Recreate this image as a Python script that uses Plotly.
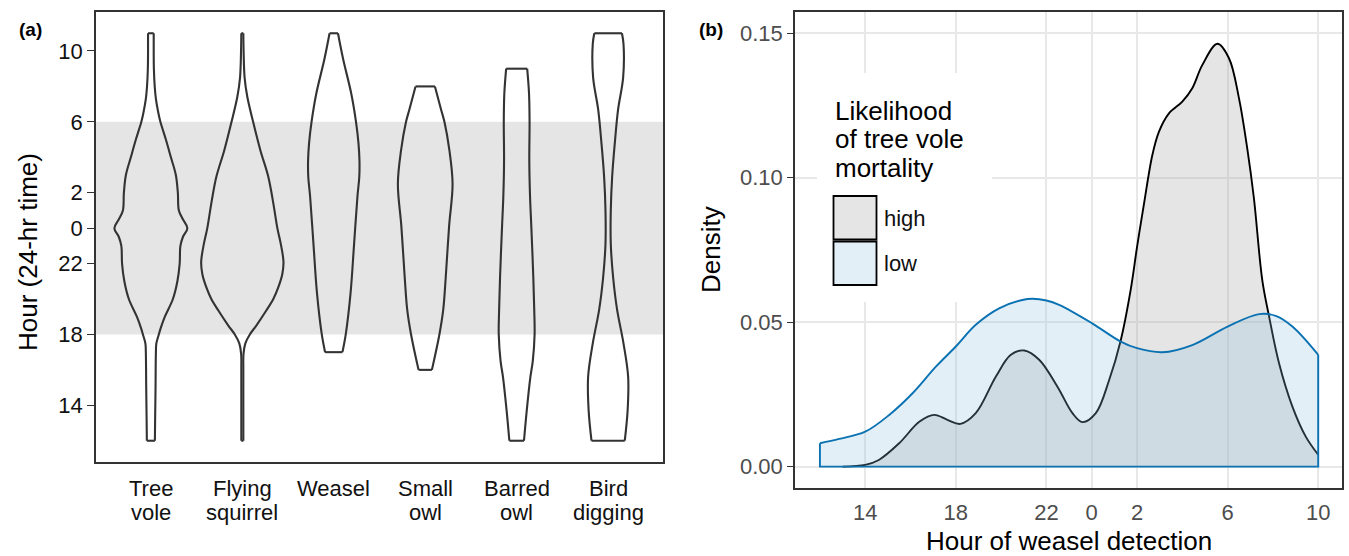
import plotly.graph_objects as go

# ---------------- data: panel (a) violins ----------------
CATEGORIES = ["Tree vole", "Flying squirrel", "Weasel", "Small owl", "Barred owl", "Bird digging"]
# hour on a continuous scale (24 = midnight, 30 = 6 am), half-width of violin in category units
TREE_VOLE_H = [12, 13, 15, 17, 17.5, 18, 18.3, 19, 20, 21, 22, 23, 23.5, 24, 24.5, 25, 26, 27, 28, 29, 30, 30.5, 31.3, 32, 33, 34, 35]
TREE_VOLE_W = [0.044, 0.046, 0.051, 0.055, 0.060, 0.087, 0.104, 0.153, 0.241, 0.290, 0.315, 0.323, 0.350, 0.399, 0.350, 0.306, 0.295, 0.273, 0.219, 0.164, 0.104, 0.082, 0.055, 0.042, 0.033, 0.031, 0.031]
SQUIRREL_H = [12, 14, 16, 16.9, 17.5, 18, 18.5, 19.35, 20, 20.67, 21.4, 22.1, 23.1, 24, 25.4, 26.9, 28.4, 30, 31.4, 32.5, 34, 35]
SQUIRREL_W = [0.011, 0.011, 0.011, 0.013, 0.033, 0.082, 0.153, 0.262, 0.339, 0.394, 0.437, 0.450, 0.421, 0.383, 0.339, 0.284, 0.197, 0.118, 0.055, 0.025, 0.014, 0.011]
WEASEL_H = [17, 18, 20.3, 23.1, 25.8, 26.9, 27.8, 28.8, 30, 31.6, 33.5, 35]
WEASEL_W = [0.095, 0.131, 0.183, 0.222, 0.259, 0.279, 0.281, 0.270, 0.243, 0.191, 0.104, 0.046]
SMALL_OWL_H = [16, 18, 19.4, 21.2, 24.1, 26.5, 28.4, 30, 30.7, 32]
SMALL_OWL_W = [0.073, 0.155, 0.197, 0.224, 0.261, 0.299, 0.264, 0.210, 0.173, 0.106]
BARRED_OWL_H = [12, 13.7, 15.6, 16.5, 18, 19.4, 21.2, 24.1, 25.8, 27.8, 30, 31.6, 33]
BARRED_OWL_W = [0.080, 0.110, 0.150, 0.176, 0.196, 0.192, 0.182, 0.160, 0.146, 0.138, 0.141, 0.135, 0.115]
BIRD_DIG_H = [12, 13.7, 15.6, 17.5, 19.4, 21.2, 23.1, 25, 26.9, 28.8, 30.7, 32.5, 34.4, 35]
BIRD_DIG_W = [0.182, 0.213, 0.219, 0.168, 0.098, 0.055, 0.029, 0.029, 0.044, 0.073, 0.109, 0.164, 0.168, 0.151]
VIOLINS = [(TREE_VOLE_H, TREE_VOLE_W), (SQUIRREL_H, SQUIRREL_W), (WEASEL_H, WEASEL_W),
           (SMALL_OWL_H, SMALL_OWL_W), (BARRED_OWL_H, BARRED_OWL_W), (BIRD_DIG_H, BIRD_DIG_W)]
NIGHT_START, NIGHT_END = 18, 30
A_TICK_VALS = [14, 18, 22, 24, 26, 30, 34]
A_TICK_TEXT = ["14", "18", "22", "0", "2", "6", "10"]

# ---------------- data: panel (b) densities ----------------
HIGH_H = [13.0, 14.0, 14.6, 15.5, 16.4, 17.05, 17.63, 18.2, 18.88, 19.77, 20.43, 21.02, 21.68, 22.5, 23.15, 23.59, 24.18, 24.77, 25.28, 25.72, 26.0, 26.3, 26.68, 26.97, 27.41, 28.0, 28.44, 28.88, 29.55, 30.06, 30.5, 30.87, 31.16, 31.53, 31.83, 32.27, 32.86, 33.45, 34.0]
HIGH_D = [0.0, 0.0006, 0.0023, 0.0081, 0.0156, 0.0179, 0.0162, 0.0148, 0.0185, 0.0312, 0.0387, 0.0402, 0.0370, 0.0275, 0.0185, 0.0154, 0.0185, 0.0300, 0.0437, 0.0612, 0.0760, 0.0906, 0.1080, 0.1160, 0.1223, 0.1264, 0.1310, 0.1390, 0.1464, 0.1414, 0.1276, 0.1100, 0.0930, 0.0646, 0.0520, 0.0358, 0.0208, 0.0104, 0.0041]
LOW_H = [12.0, 12.85, 14.0, 15.06, 16.09, 17.12, 18.0, 18.88, 19.91, 20.94, 21.38, 22.0, 22.56, 24.0, 25.28, 26.0, 27.12, 28.44, 30.0, 31.39, 32.12, 32.86, 34.0]
LOW_D = [0.0081, 0.0096, 0.0121, 0.0179, 0.0254, 0.0346, 0.0416, 0.0491, 0.0548, 0.0577, 0.0581, 0.0575, 0.0560, 0.0497, 0.0433, 0.0410, 0.0396, 0.0421, 0.0485, 0.0528, 0.0522, 0.0485, 0.0387]
B_X_TICK_VALS = [14, 18, 22, 24, 26, 30, 34]
B_X_TICK_TEXT = ["14", "18", "22", "0", "2", "6", "10"]
B_Y_TICK_VALS = [0, 0.05, 0.10, 0.15]
B_Y_TICK_TEXT = ["0.00", "0.05", "0.10", "0.15"]
GROUPS = ["high", "low"]
LEGEND_TITLE = ["Likelihood", "of tree vole", "mortality"]

# ---------------- styling ----------------
W, H = 1349, 556
FONT = "Liberation Sans, Arial, sans-serif"
OUTLINE = "#333333"
HIGH_FILL = "rgba(153,153,153,0.26)"
LOW_FILL = "rgba(143,191,223,0.25)"
LOW_LINE = "#0a72b2"


def fx(p):
    return p / W


def fy(p):
    return 1 - p / H


fig = go.Figure()

# violins
for i, (hrs, wid) in enumerate(VIOLINS):
    c = i + 1
    common = dict(mode="lines", hoverinfo="skip", showlegend=False, xaxis="x", yaxis="y")
    fig.add_trace(go.Scatter(x=[c + w for w in wid], y=hrs,
                             line=dict(color=OUTLINE, width=2.1, shape="spline", smoothing=1.0), **common))
    fig.add_trace(go.Scatter(x=[c - w for w in wid], y=hrs,
                             line=dict(color=OUTLINE, width=2.1, shape="spline", smoothing=1.0), **common))
    fig.add_trace(go.Scatter(x=[c - wid[0], c + wid[0], None, c - wid[-1], c + wid[-1]],
                             y=[hrs[0], hrs[0], None, hrs[-1], hrs[-1]],
                             line=dict(color=OUTLINE, width=2.1), **common))

# densities
fig.add_trace(go.Scatter(x=HIGH_H, y=HIGH_D, mode="lines", fill="tozeroy", fillcolor=HIGH_FILL,
                         line=dict(color="#000000", width=1.9, shape="spline", smoothing=1.0),
                         name=GROUPS[0], showlegend=False, xaxis="x2", yaxis="y2"))
fig.add_trace(go.Scatter(x=LOW_H, y=LOW_D, mode="lines", fill="tozeroy", fillcolor=LOW_FILL,
                         line=dict(color=LOW_LINE, width=1.9, shape="spline", smoothing=1.0),
                         name=GROUPS[1], showlegend=False, xaxis="x2", yaxis="y2"))
fig.add_trace(go.Scatter(x=[LOW_H[0], LOW_H[0], LOW_H[-1], LOW_H[-1]], y=[LOW_D[0], 0, 0, LOW_D[-1]],
                         mode="lines", line=dict(color=LOW_LINE, width=1.9), hoverinfo="skip",
                         showlegend=False, xaxis="x2", yaxis="y2"))

shapes = [
    dict(type="rect", xref="paper", yref="y", x0=fx(96), x1=fx(663), y0=NIGHT_START, y1=NIGHT_END,
         fillcolor="#e5e5e5", line=dict(width=0), layer="below"),
    # legend background (covers grid lines)
    dict(type="rect", xref="paper", yref="paper", x0=fx(817), x1=fx(992), y0=fy(302), y1=fy(73),
         fillcolor="white", line=dict(width=0), layer="above"),
]

key_fills = [HIGH_FILL, LOW_FILL]
key_tops = [196, 241.5]
for kf, kt in zip(key_fills, key_tops):
    shapes.append(dict(type="rect", xref="paper", yref="paper", x0=fx(833.5), x1=fx(876.5),
                       y0=fy(kt + 43.5), y1=fy(kt), fillcolor=kf, line=dict(color="#000000", width=1.8),
                       layer="above"))

annotations = []
# category labels (a)
for i, cat in enumerate(CATEGORIES):
    parts = cat.split(" ", 1)
    for j, part in enumerate(parts):
        annotations.append(dict(x=i + 1, xref="x", y=fy(488.5 + 23.5 * j), yref="paper", text=part,
                                showarrow=False, xanchor="center", yanchor="middle",
                                font=dict(family=FONT, size=22, color="#111111")))
# legend text
for j, line in enumerate(LEGEND_TITLE):
    annotations.append(dict(x=fx(833), xref="paper", y=fy(111 + 28.3 * j), yref="paper", text=line,
                            showarrow=False, xanchor="left", yanchor="middle",
                            font=dict(family=FONT, size=26, color="#000000")))
for g, kt in zip(GROUPS, key_tops):
    annotations.append(dict(x=fx(882), xref="paper", y=fy(kt + 22), yref="paper", text=g,
                            showarrow=False, xanchor="left", yanchor="middle",
                            font=dict(family=FONT, size=22, color="#111111")))
# titles
annotations += [
    dict(x=fx(28), y=fy(252), xref="paper", yref="paper", text="Hour (24-hr time)", textangle=-90,
         showarrow=False, xanchor="center", yanchor="middle", font=dict(family=FONT, size=26, color="#000000")),
    dict(x=fx(711), y=fy(250), xref="paper", yref="paper", text="Density", textangle=-90,
         showarrow=False, xanchor="center", yanchor="middle", font=dict(family=FONT, size=26, color="#000000")),
    dict(x=fx(1069), y=fy(541), xref="paper", yref="paper", text="Hour of weasel detection",
         showarrow=False, xanchor="center", yanchor="middle", font=dict(family=FONT, size=26, color="#000000")),
    dict(x=fx(17), y=fy(29), xref="paper", yref="paper", text="<b>(a)</b>",
         showarrow=False, xanchor="left", yanchor="middle", font=dict(family=FONT, size=19, color="#000000")),
    dict(x=fx(697), y=fy(29), xref="paper", yref="paper", text="<b>(b)</b>",
         showarrow=False, xanchor="left", yanchor="middle", font=dict(family=FONT, size=19, color="#000000")),
]

axis_line = dict(showline=True, mirror=True, linecolor=OUTLINE, linewidth=1.5, zeroline=False)

fig.update_layout(
    width=W, height=H,
    margin=dict(l=0, r=0, t=0, b=0),
    paper_bgcolor="white", plot_bgcolor="white",
    showlegend=False,
    shapes=shapes,
    annotations=annotations,
    xaxis=dict(domain=[fx(96), fx(663)], range=[0.4, 6.6], showgrid=False, showticklabels=False,
               ticks="", anchor="y", fixedrange=True, **axis_line),
    yaxis=dict(domain=[fy(462), fy(12)], range=[10.8, 36.2], showgrid=False, tickvals=A_TICK_VALS,
               ticktext=A_TICK_TEXT, ticks="outside", ticklen=7, tickwidth=1.4, tickcolor=OUTLINE,
               tickfont=dict(family=FONT, size=22, color="#111111"), anchor="x", **axis_line),
    xaxis2=dict(domain=[fx(795), fx(1342)], range=[10.9, 35.05], showgrid=True, gridcolor="#e8e8e8",
                gridwidth=1.6, tickvals=B_X_TICK_VALS, ticktext=B_X_TICK_TEXT, ticks="",
                ticklabelstandoff=4,
                tickfont=dict(family=FONT, size=22, color="#4d4d4d"), anchor="y2", **axis_line),
    yaxis2=dict(domain=[fy(488), fy(12)], range=[-0.0074, 0.1574], showgrid=True, gridcolor="#e8e8e8",
                gridwidth=1.6, tickvals=B_Y_TICK_VALS, ticktext=B_Y_TICK_TEXT, ticks="outside",
                ticklen=6, tickwidth=1.4, tickcolor=OUTLINE,
                tickfont=dict(family=FONT, size=22, color="#4d4d4d"), anchor="x2", **axis_line),
)

fig.write_html("out.html")
